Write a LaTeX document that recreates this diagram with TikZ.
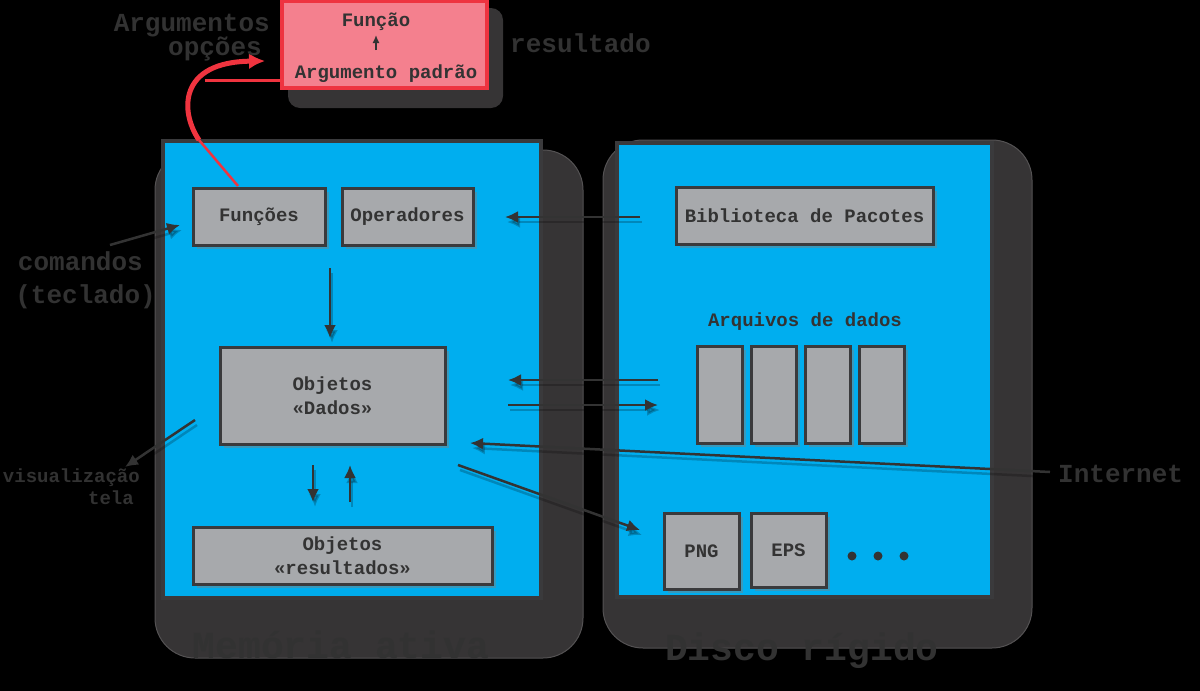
\documentclass[tikz,border=0pt]{standalone}
\usepackage{fontspec}
\setmonofont{Liberation Mono}
\usetikzlibrary{arrows.meta,shadows}
\definecolor{bluep}{HTML}{00AEEF}
\definecolor{boxg}{HTML}{A7A9AC}
\definecolor{edge}{HTML}{3A3A3C}
\definecolor{panel}{HTML}{363435}
\definecolor{ink}{HTML}{333333}
\definecolor{lbl}{HTML}{323232}
\definecolor{pinkf}{HTML}{F4808E}
\definecolor{redb}{HTML}{EE3340}
\definecolor{redarrow}{HTML}{F0343F}
\tikzset{
  gbox/.style={draw=edge, line width=3pt, fill=boxg,
    drop shadow={shadow xshift=4pt, shadow yshift=-4pt, opacity=0.45},
    font=\fontsize{19}{24}\selectfont\ttfamily\bfseries, text=ink,
    align=center, inner sep=0pt},
  plain/.style={font=\fontsize{19}{24}\selectfont\ttfamily\bfseries, text=ink, inner sep=0pt},
  dlabel/.style={font=\fontsize{26}{30}\selectfont\ttfamily\bfseries, text=lbl, inner sep=0pt},
  slabel/.style={font=\fontsize{19}{24}\selectfont\ttfamily\bfseries, text=lbl, inner sep=0pt},
  biglabel/.style={font=\fontsize{38}{42}\selectfont\ttfamily\bfseries, text=lbl, inner sep=0pt},
  conn/.style={draw=ink, line width=2.5pt, -{Latex[length=13pt,width=12pt]},
    preaction={draw=black, opacity=0.22, line width=2.5pt, transform canvas={xshift=2pt,yshift=-5pt}}},
  pbox/.style={draw=edge, line width=4pt, fill=bluep},
  darkpanel/.style={fill=panel, draw=panel!85!white, line width=1pt, rounded corners=40pt}
}
\begin{document}
\begin{tikzpicture}[x=1pt,y=-1pt]
\useasboundingbox (0,0) rectangle (1200,691);
\fill[black] (0,0) rectangle (1200,691);

% dark backing panels
\draw[darkpanel] (155,150) rectangle (583,658);
\draw[darkpanel] (603,140) rectangle (1032,648);
\draw[fill=panel, draw=none, rounded corners=12pt] (288,8) rectangle (503,108);

% blue panels
\draw[pbox] (163,141) rectangle (541,598);
\draw[pbox] (617,143) rectangle (992,597);

% red box
\draw[fill=pinkf, draw=redb, line width=4pt] (282,1) rectangle (487,88);
\node[plain] (funcao) at (376,22) {Função};
\node[plain] (argpad) at (386,74) {Argumento padrão};
\coordinate (ua) at (376,50);
\coordinate (ub) at (376,35);
\draw[draw=ink, line width=1.5pt, -{Latex[length=8pt,width=7pt]}] (ua) -- (ub);

% boxes left
\node[gbox, minimum width=132pt, minimum height=57pt] (fun) at (259,216.5) {Funções};
\node[gbox, minimum width=131pt, minimum height=57pt] (ope) at (407.5,216.5) {Operadores};
\node[gbox, minimum width=225pt, minimum height=97pt] (dad) at (332.5,395.5) {Objetos\\«Dados»};
\node[gbox, minimum width=299pt, minimum height=57pt] (res) at (342.5,555.5) {Objetos\\«resultados»};

% boxes right
\node[gbox, minimum width=257pt, minimum height=57pt] (bib) at (804.5,215.5) {Biblioteca de Pacotes};
\node[plain] (arq) at (805,322) {Arquivos de dados};
\node[gbox, minimum width=45pt, minimum height=97pt] (f1) at (719.5,394.5) {};
\node[gbox, minimum width=45pt, minimum height=97pt] (f2) at (773.5,394.5) {};
\node[gbox, minimum width=45pt, minimum height=97pt] (f3) at (827.5,394.5) {};
\node[gbox, minimum width=45pt, minimum height=97pt] (f4) at (881.5,394.5) {};
\node[gbox, minimum width=75pt, minimum height=76pt] (png) at (701.5,551) {PNG};
\node[gbox, minimum width=75pt, minimum height=74pt] (eps) at (788.5,550) {EPS};
\fill[ink] (852,556) circle (4.5pt) (878,556) circle (4.5pt) (904,556) circle (4.5pt);

% connectors
\coordinate (a1s) at (640,217); \coordinate (a1e) at (505,217);
\draw[conn] (a1s) -- (a1e);
\coordinate (a2s) at (330,268); \coordinate (a2e) at (330,338);
\draw[conn] (a2s) -- (a2e);
\coordinate (a3s) at (658,380); \coordinate (a3e) at (508,380);
\draw[conn] (a3s) -- (a3e);
\coordinate (a4s) at (508,405); \coordinate (a4e) at (658,405);
\draw[conn] (a4s) -- (a4e);
\coordinate (a5s) at (1050,472); \coordinate (a5e) at (470,443);
\draw[conn] (a5s) -- (a5e);
\coordinate (a6s) at (458,465); \coordinate (a6e) at (640,530);
\draw[conn] (a6s) -- (a6e);
\coordinate (a7s) at (313,465); \coordinate (a7e) at (313,502);
\draw[conn] (a7s) -- (a7e);
\coordinate (a8s) at (350,502); \coordinate (a8e) at (350,465);
\draw[conn] (a8s) -- (a8e);
\coordinate (a9s) at (110,245); \coordinate (a9e) at (180,225);
\draw[conn] (a9s) -- (a9e);
\coordinate (a10s) at (195,420); \coordinate (a10e) at (125,467);
\draw[conn] (a10s) -- (a10e);

% red curved arrow
\coordinate (r0) at (238,186);
\coordinate (r1) at (199,140);
\coordinate (rt) at (265,61);
\coordinate (rl0) at (205,80);
\coordinate (rl1) at (283,80);
\draw[redarrow, line width=3pt] (rl0) -- (rl1);
\draw[redarrow, line width=2.5pt] (r0) -- (r1);
\draw[redarrow, line width=5pt, -{Latex[length=16pt,width=16pt]}] (r1) .. controls (180,112) and (178,62) .. (rt);

% outer labels
\node[dlabel, anchor=base east] (l1) at (270,31) {Argumentos};
\node[dlabel, anchor=base east] (l2) at (262,55) {opções};
\node[dlabel, anchor=base west] (l3) at (510,52) {resultado};
\node[dlabel, anchor=base east] (l4) at (143,270) {comandos};
\node[dlabel, anchor=base east] (l5) at (156,303) {(teclado)};
\node[slabel, anchor=base east] (l6) at (140,482) {visualização};
\node[slabel, anchor=base east] (l7) at (134,504) {tela};
\node[dlabel, anchor=base west] (l8) at (1058,482) {Internet};
\node[biglabel, anchor=base] (l9) at (341,658) {Memória ativa};
\node[biglabel, anchor=base] (l10) at (802,660) {Disco rígido};
\end{tikzpicture}
\end{document}
